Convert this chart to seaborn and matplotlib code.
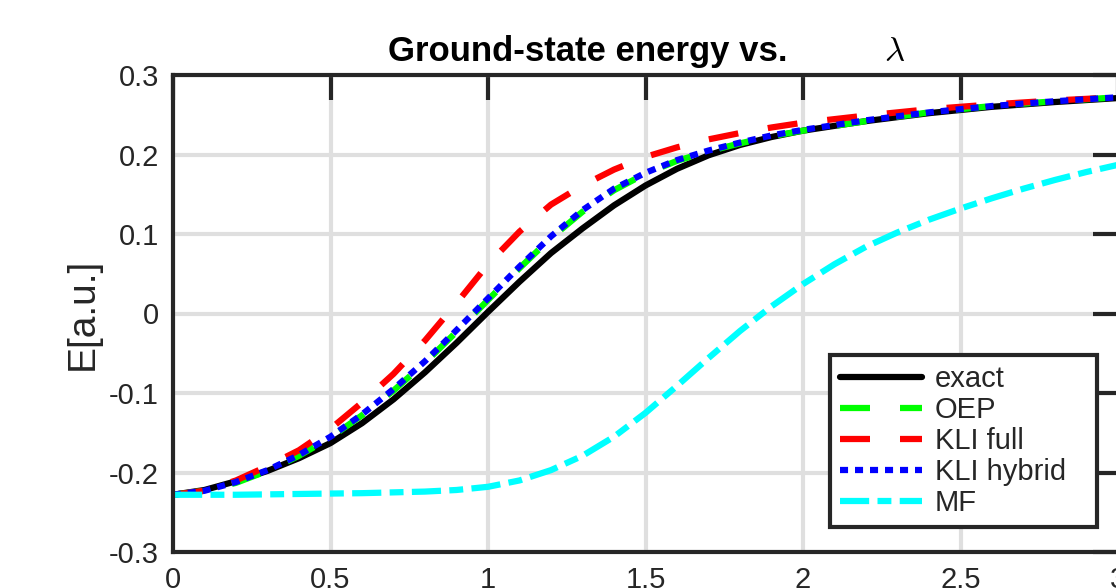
import numpy as np
import pandas as pd
import seaborn as sns
from matplotlib import pyplot as plt

# values
lam = [0.0, 0.1, 0.2, 0.3, 0.4, 0.5, 0.6, 0.7, 0.8, 0.9, 1.0, 1.1, 1.2, 1.3,
       1.4, 1.5, 1.6, 1.7, 1.8, 1.9, 2.0, 2.2, 2.4, 2.6, 2.8, 3.0]
e_exact = [-0.228, -0.222, -0.211, -0.198, -0.182, -0.163, -0.138, -0.108, -0.074, -0.037,
           0.002, 0.040, 0.076, 0.107, 0.136, 0.161, 0.182, 0.199, 0.212, 0.222,
           0.230, 0.242, 0.252, 0.260, 0.266, 0.271]
e_oep = [-0.228, -0.223, -0.213, -0.198, -0.179, -0.156, -0.128, -0.097, -0.062, -0.023,
         0.017, 0.057, 0.095, 0.128, 0.155, 0.176, 0.192, 0.204, 0.214, 0.223,
         0.230, 0.242, 0.253, 0.261, 0.267, 0.272]
e_kli_full = [-0.228, -0.223, -0.210, -0.192, -0.172, -0.145, -0.112, -0.076, -0.034, 0.013,
              0.062, 0.103, 0.137, 0.161, 0.181, 0.197, 0.209, 0.219, 0.227, 0.234,
              0.240, 0.249, 0.257, 0.263, 0.268, 0.272]
e_kli_hybrid = [-0.228, -0.223, -0.212, -0.197, -0.178, -0.155, -0.127, -0.095, -0.060, -0.021,
                0.019, 0.059, 0.097, 0.130, 0.157, 0.177, 0.193, 0.205, 0.215, 0.224,
                0.231, 0.243, 0.253, 0.261, 0.267, 0.272]

lam_mf = [0.0, 0.2, 0.4, 0.6, 0.8, 0.9, 1.0, 1.1, 1.2, 1.3, 1.4, 1.5, 1.6, 1.7,
          1.8, 1.9, 2.0, 2.1, 2.2, 2.3, 2.4, 2.5, 2.6, 2.7, 2.8, 2.9, 3.0]
e_mf = [-0.228, -0.228, -0.227, -0.226, -0.224, -0.222, -0.218, -0.210, -0.197, -0.179,
        -0.155, -0.125, -0.091, -0.056, -0.022, 0.009, 0.037, 0.062, 0.084, 0.102,
        0.118, 0.132, 0.145, 0.157, 0.168, 0.178, 0.187]

xticks = [0, 0.5, 1, 1.5, 2, 2.5, 3]
yticks = [-0.3, -0.2, -0.1, 0, 0.1, 0.2, 0.3]

sns.set_theme(style="white")
plt.rcParams['font.family'] = ['Liberation Sans', 'DejaVu Sans']
plt.rcParams['mathtext.fontset'] = 'cm'
plt.rcParams['lines.scale_dashes'] = False

dark = '#262626'
fig = plt.figure(figsize=(11.16, 5.88), dpi=100)
ax = fig.add_axes([173 / 1116, 36 / 588, 945 / 1116, 477 / 588])

lw = 4.5
series = [
    (lam, e_exact, 'exact', 'black', '-'),
    (lam, e_oep, 'OEP', '#00ff00', (0, (21.6, 21.6))),
    (lam, e_kli_full, 'KLI full', '#ff0000', (0, (21.6, 21.6))),
    (lam, e_kli_hybrid, 'KLI hybrid', '#0000ff', (0, (5.8, 5.0))),
    (lam_mf, e_mf, 'MF', '#00ffff', (0, (21.0, 6.0, 10.0, 6.0))),
]
for xs, ys, name, col, ls in series:
    df = pd.DataFrame({'lambda': xs, 'E': ys})
    sns.lineplot(data=df, x='lambda', y='E', ax=ax, color=col, lw=lw,
                 linestyle=ls, label=name)

ax.set_xlim(0, 3)
ax.set_ylim(-0.3, 0.3)
ax.set_xticks(xticks)
ax.set_xticklabels(['0', '0.5', '1', '1.5', '2', '2.5', '3'])
ax.set_yticks(yticks)
ax.set_yticklabels(['-0.3', '-0.2', '-0.1', '0', '0.1', '0.2', '0.3'])
ax.set_xlabel('')
ax.set_ylabel('E[a.u.]', fontsize=28, color=dark, labelpad=6)

ax.set_axisbelow(True)
ax.grid(True, color='#dfdfdf', lw=3)
ax.tick_params(which='both', direction='in', length=18, width=3, color=dark,
               top=True, right=True, labelsize=21, labelcolor=dark, pad=10)
for sp in ax.spines.values():
    sp.set_color(dark)
    sp.set_linewidth(3)
    sp.set_visible(True)

ax.text(0.4386, 1.029, 'Ground-state energy vs.', transform=ax.transAxes,
        ha='center', va='baseline', fontsize=25, fontweight='bold', color='black')
ax.text(0.764, 1.029, r'$\lambda$', transform=ax.transAxes,
        ha='center', va='baseline', fontsize=25, color='black')

# legend box spans the same place as in the reference (x 830..1097 px)
leg = ax.legend(loc='lower left', bbox_to_anchor=(0.695, 0.052, 0.2825, 0.365),
                mode='expand', borderaxespad=0,
                fontsize=21, frameon=True, fancybox=False, edgecolor=dark,
                framealpha=1, handlelength=2.8, handletextpad=0.45,
                labelspacing=0.1, borderpad=0.35)
leg.get_frame().set_linewidth(3)

fig.savefig('out.png', dpi=100)
